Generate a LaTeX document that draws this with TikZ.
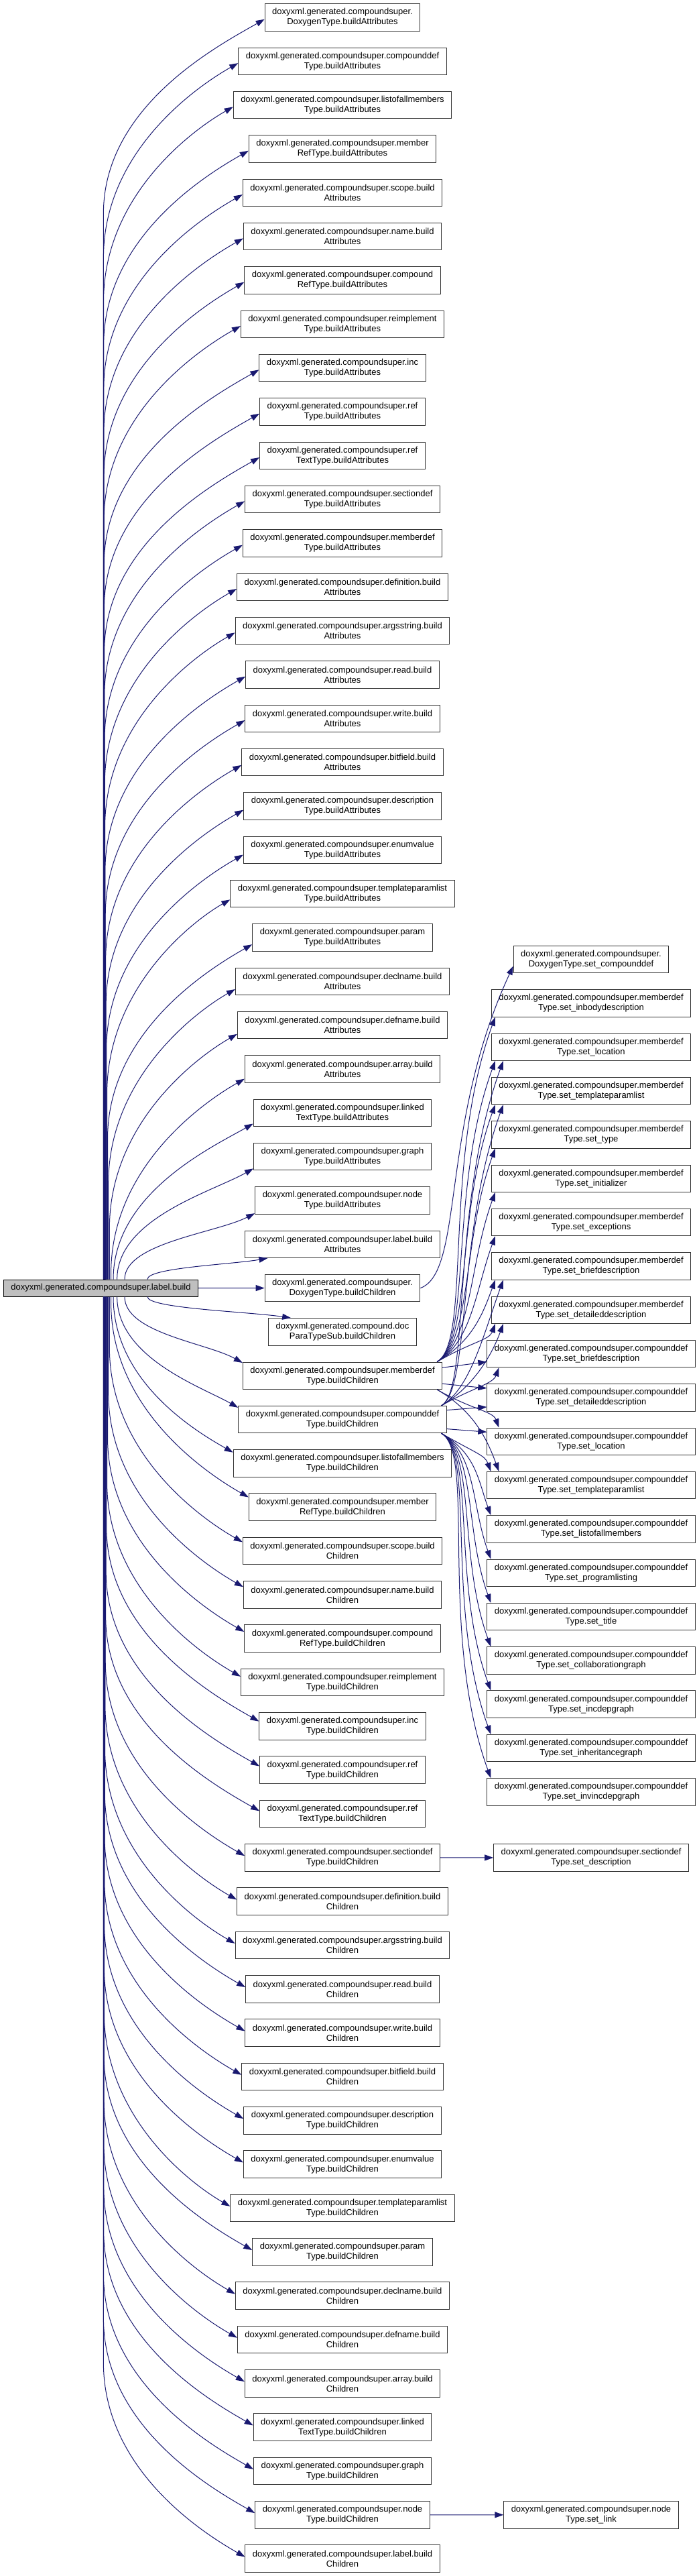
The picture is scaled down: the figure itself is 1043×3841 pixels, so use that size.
\documentclass[tikz,border=0pt]{standalone}
\usepackage{fontspec}
\setmainfont{Liberation Sans}
\usetikzlibrary{calc,positioning,arrows.meta}
\definecolor{callblue}{HTML}{191970}
\newcommand{\cspkg}{doxyxml.generated.compoundsuper.}

\begin{document}
\begin{tikzpicture}[x=1pt, y=1pt,
  fn/.style={draw=black!80, line width=1pt, fill=white, align=center,
    inner xsep=11pt, inner ysep=0pt, minimum height=40.5pt,
    font=\fontsize{13}{15}\selectfont},
  rootfn/.style={fn, fill=black!25, draw=black, minimum height=25pt},
  call/.style={draw=callblue, line width=1pt, -{Triangle[length=13pt,width=9pt]}}]
\useasboundingbox (0,0) rectangle (1043,-3841);

% the caller
\node[rootfn] (lblbuild) at (150.5,-1920.5) {\cspkg label.build};

% first column: everything label.build calls
\foreach \i/\lineA/\lineB in {
  0/{\cspkg}/{DoxygenType.buildAttributes},
  1/{\cspkg compounddef}/{Type.buildAttributes},
  2/{\cspkg listofallmembers}/{Type.buildAttributes},
  3/{\cspkg member}/{RefType.buildAttributes},
  4/{\cspkg scope.build}/{Attributes},
  5/{\cspkg name.build}/{Attributes},
  6/{\cspkg compound}/{RefType.buildAttributes},
  7/{\cspkg reimplement}/{Type.buildAttributes},
  8/{\cspkg inc}/{Type.buildAttributes},
  9/{\cspkg ref}/{Type.buildAttributes},
  10/{\cspkg ref}/{TextType.buildAttributes},
  11/{\cspkg sectiondef}/{Type.buildAttributes},
  12/{\cspkg memberdef}/{Type.buildAttributes},
  13/{\cspkg definition.build}/{Attributes},
  14/{\cspkg argsstring.build}/{Attributes},
  15/{\cspkg read.build}/{Attributes},
  16/{\cspkg write.build}/{Attributes},
  17/{\cspkg bitfield.build}/{Attributes},
  18/{\cspkg description}/{Type.buildAttributes},
  19/{\cspkg enumvalue}/{Type.buildAttributes},
  20/{\cspkg templateparamlist}/{Type.buildAttributes},
  21/{\cspkg param}/{Type.buildAttributes},
  22/{\cspkg declname.build}/{Attributes},
  23/{\cspkg defname.build}/{Attributes},
  24/{\cspkg array.build}/{Attributes},
  25/{\cspkg linked}/{TextType.buildAttributes},
  26/{\cspkg graph}/{Type.buildAttributes},
  27/{\cspkg node}/{Type.buildAttributes},
  28/{\cspkg label.build}/{Attributes},
  29/{\cspkg}/{DoxygenType.buildChildren},
  30/{doxyxml.generated.compound.doc}/{ParaTypeSub.buildChildren},
  31/{\cspkg memberdef}/{Type.buildChildren},
  32/{\cspkg compounddef}/{Type.buildChildren},
  33/{\cspkg listofallmembers}/{Type.buildChildren},
  34/{\cspkg member}/{RefType.buildChildren},
  35/{\cspkg scope.build}/{Children},
  36/{\cspkg name.build}/{Children},
  37/{\cspkg compound}/{RefType.buildChildren},
  38/{\cspkg reimplement}/{Type.buildChildren},
  39/{\cspkg inc}/{Type.buildChildren},
  40/{\cspkg ref}/{Type.buildChildren},
  41/{\cspkg ref}/{TextType.buildChildren},
  42/{\cspkg sectiondef}/{Type.buildChildren},
  43/{\cspkg definition.build}/{Children},
  44/{\cspkg argsstring.build}/{Children},
  45/{\cspkg read.build}/{Children},
  46/{\cspkg write.build}/{Children},
  47/{\cspkg bitfield.build}/{Children},
  48/{\cspkg description}/{Type.buildChildren},
  49/{\cspkg enumvalue}/{Type.buildChildren},
  50/{\cspkg templateparamlist}/{Type.buildChildren},
  51/{\cspkg param}/{Type.buildChildren},
  52/{\cspkg declname.build}/{Children},
  53/{\cspkg defname.build}/{Children},
  54/{\cspkg array.build}/{Children},
  55/{\cspkg linked}/{TextType.buildChildren},
  56/{\cspkg graph}/{Type.buildChildren},
  57/{\cspkg node}/{Type.buildChildren},
  58/{\cspkg label.build}/{Children}}{
  \pgfmathsetmacro{\yy}{-26-65.33*\i}
  \node[fn] (call\i) at (511,\yy) {\lineA\\\lineB};
}

% second column: setters
\foreach \k/\lineA/\lineB in {
  0/{\cspkg}/{DoxygenType.set\_compounddef},
  1/{\cspkg memberdef}/{Type.set\_inbodydescription},
  2/{\cspkg memberdef}/{Type.set\_location},
  3/{\cspkg memberdef}/{Type.set\_templateparamlist},
  4/{\cspkg memberdef}/{Type.set\_type},
  5/{\cspkg memberdef}/{Type.set\_initializer},
  6/{\cspkg memberdef}/{Type.set\_exceptions},
  7/{\cspkg memberdef}/{Type.set\_briefdescription},
  8/{\cspkg memberdef}/{Type.set\_detaileddescription},
  9/{\cspkg compounddef}/{Type.set\_briefdescription},
  10/{\cspkg compounddef}/{Type.set\_detaileddescription},
  11/{\cspkg compounddef}/{Type.set\_location},
  12/{\cspkg compounddef}/{Type.set\_templateparamlist},
  13/{\cspkg compounddef}/{Type.set\_listofallmembers},
  14/{\cspkg compounddef}/{Type.set\_programlisting},
  15/{\cspkg compounddef}/{Type.set\_title},
  16/{\cspkg compounddef}/{Type.set\_collaborationgraph},
  17/{\cspkg compounddef}/{Type.set\_incdepgraph},
  18/{\cspkg compounddef}/{Type.set\_inheritancegraph},
  19/{\cspkg compounddef}/{Type.set\_invincdepgraph}}{
  \pgfmathsetmacro{\yy}{-1430.6-65.33*\k}
  \node[fn] (set\k) at (882,\yy) {\lineA\\\lineB};
}
\node[fn] (secdesc) at (882,-2769.9) {\cspkg sectiondef\\Type.set\_description};
\node[fn] (nodelink) at (882,-3749.8) {\cspkg node\\Type.set\_link};

% fan to the upper half
\foreach \i in {0,...,28}{
  \pgfmathsetmacro{\gap}{28-\i}
  \pgfmathsetmacro{\shx}{1.5+68/(\gap+1)}
  \pgfmathsetmacro{\endx}{\gap<1 ? 34 : 0}
  \pgfmathsetmacro{\endy}{min(18,1.5*\gap)}
  \draw[call] let \p1=($(call\i.south west)+(\endx,\endy)$),
    \p2=($(lblbuild.north)+(\shx,0)$),
    \n1={min((\y1)-(\y2),290)}, \n2={(\x1)-(\x2)},
    \n3={min(0.17*\n2,0.3*((\y1)-(\y2)))} in
    (\p2) -- (\x2,{\y1-\n1})
    .. controls (\x2,{\y1-0.45*\n1}) and ({\x1-0.3*\n2},{\y1-\n3}) .. (\p1);
}
% straight one
\draw[call] (lblbuild.east) -- (call29.west);
% fan to the lower half
\foreach \i in {30,...,58}{
  \pgfmathsetmacro{\gap}{\i-30}
  \pgfmathsetmacro{\shx}{1.5+68/(\gap+1)}
  \pgfmathsetmacro{\endx}{\gap<1 ? 34 : 0}
  \pgfmathsetmacro{\endy}{min(18,1.5*\gap)}
  \draw[call] let \p1=($(call\i.north west)+(\endx,-\endy)$),
    \p2=($(lblbuild.south)+(\shx,0)$),
    \n1={min((\y2)-(\y1),290)}, \n2={(\x1)-(\x2)},
    \n3={min(0.17*\n2,0.3*((\y2)-(\y1)))} in
    (\p2) -- (\x2,{\y1+\n1})
    .. controls (\x2,{\y1+0.45*\n1}) and ({\x1-0.3*\n2},{\y1+\n3}) .. (\p1);
}

% DoxygenType.buildChildren
\draw[call] (call29.east) .. controls +(20:70) and +(245:260) .. ($(set0.west)+(0,-10)$);

% memberdef.buildChildren
\foreach \k in {1,...,8}{
  \pgfmathsetmacro{\clen}{0.45*(580-65.33*\k)}
  \draw[call] ($(call31.north east)+(-8,0)$) .. controls +(30:60) and +(250:\clen) .. ($(set\k.south west)+(6,0)$);
}
\draw[call] ($(call31.east)+(0,12)$) -- ($(set9.west)+(0,-12)$);
\draw[call] ($(call31.east)+(0,-12)$) -- ($(set10.west)+(0,14)$);
\foreach \k in {11,12}{
  \pgfmathsetmacro{\clen}{0.45*(65.33*\k-661)}
  \draw[call] ($(call31.south east)+(-8,0)$) .. controls +(-30:60) and +(110:\clen) .. ($(set\k.north west)+(18,0)$);
}

% compounddef.buildChildren
\foreach \k in {2,3,7,8,9}{
  \pgfmathsetmacro{\clen}{0.45*(645.5-65.33*\k)}
  \draw[call] ($(call32.north east)+(-8,0)$) .. controls +(30:50) and +(250:\clen) .. ($(set\k.south west)+(18,0)$);
}
\draw[call] ($(call32.east)+(0,14)$) -- ($(set10.west)+(0,-14)$);
\draw[call] ($(call32.east)+(0,-14)$) -- ($(set11.west)+(0,14)$);
\foreach \k in {12,...,19}{
  \pgfmathsetmacro{\clen}{0.45*(65.33*\k-726.5)}
  \draw[call] ($(call32.south east)+(-8,0)$) .. controls +(-30:60) and +(110:\clen) .. ($(set\k.north west)+(6,0)$);
}

% sectiondef and node
\draw[call] (call42.east) -- (secdesc.west);
\draw[call] (call57.east) -- (nodelink.west);
\end{tikzpicture}
\end{document}
